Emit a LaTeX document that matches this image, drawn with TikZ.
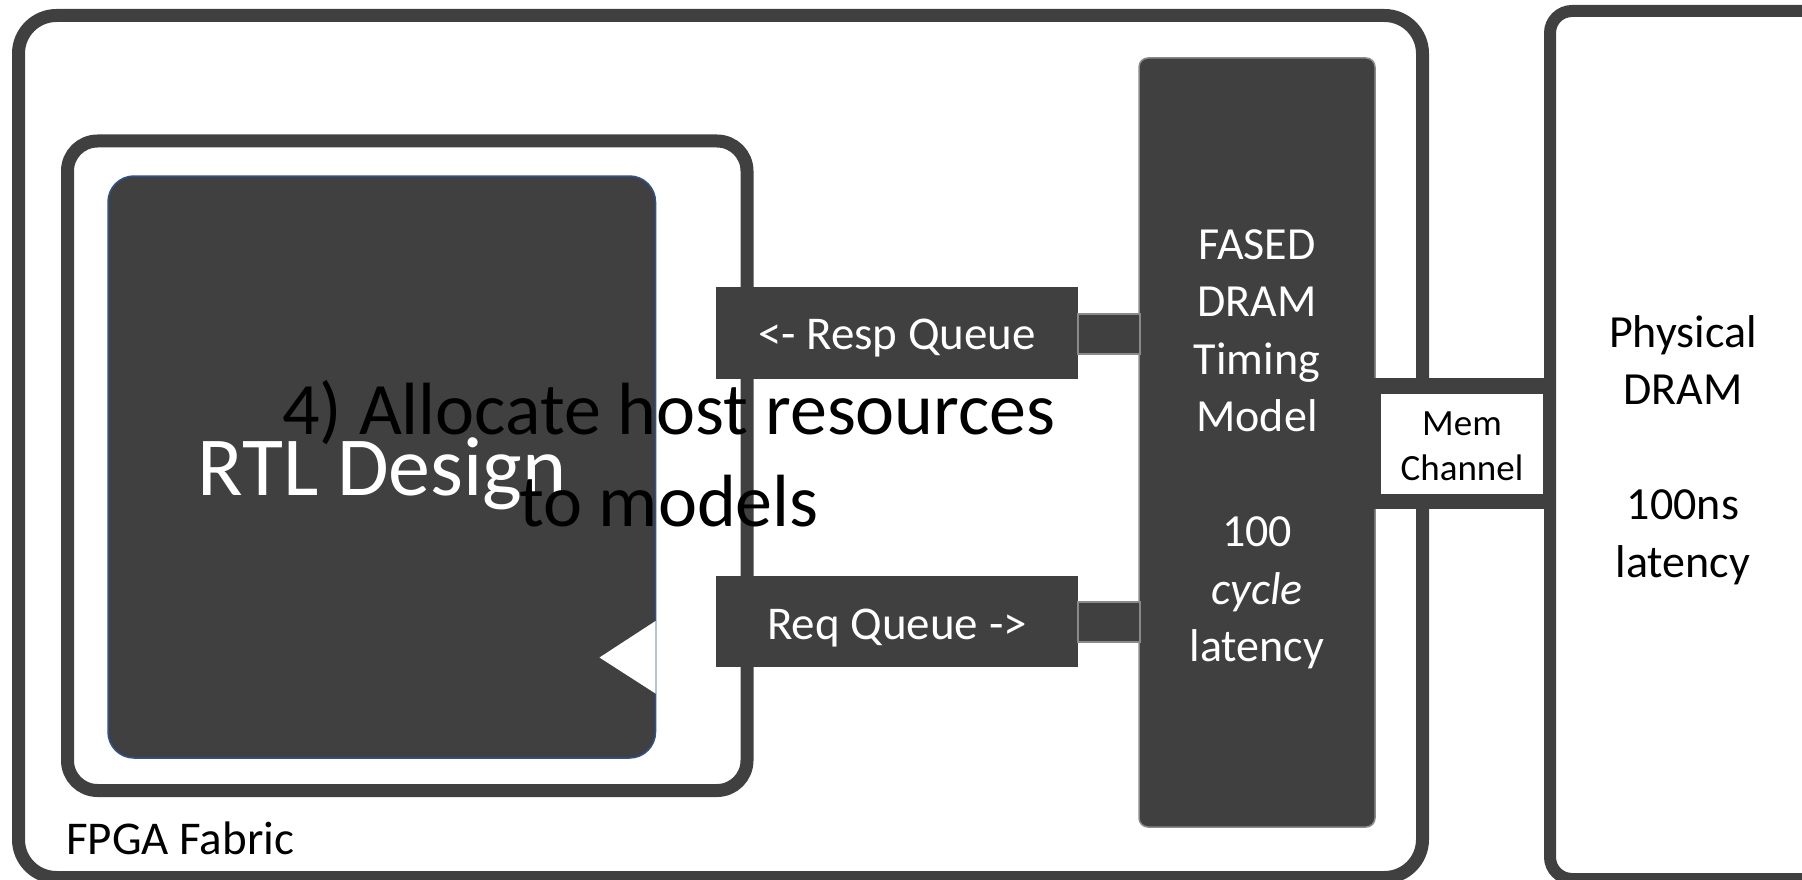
\documentclass[tikz,border=0pt]{standalone}
\usepackage{fontspec}
\setmainfont{Carlito}
\usetikzlibrary{fit}
\definecolor{dk}{HTML}{404040}
\definecolor{bl}{HTML}{2F528F}
\definecolor{gr}{HTML}{8A8A8A}
\tikzset{
  frame/.style={draw=dk, line width=13, inner sep=0pt, outer sep=0pt},
  solid box/.style={fill=dk, inner sep=0pt, outer sep=0pt},
  wtext/.style={text=white, align=center},
}
\begin{document}
\begin{tikzpicture}[x=1pt,y=-1pt]
\useasboundingbox (0,0) rectangle (1802,880);
\clip (0,0) rectangle (1802,880);

% FPGA fabric frame
\node[frame, rounded corners=38, fit={(18.5,15.5)(1422.5,877.5)}] (fpga) {};
% Physical DRAM frame
\node[draw=dk, line width=12, inner sep=0pt, rounded corners=22,
      fit={(1550,11)(1860,879)}] (dram) {};
\node[font=\fontsize{46}{57.5}\selectfont, align=center, anchor=center] (dramtxt)
  at (1683,450) {Physical\\DRAM\\[57.5pt]100ns\\latency};

% inner container
\node[frame, rounded corners=30, fit={(67.5,141)(747,790.5)}] (cont) {};
% RTL design
\node[solid box, draw=bl, line width=1.5, rounded corners=26,
      fit={(108,176)(655.5,758)}] (rtl) {};
\fill[white] (655.5,621) -- (599.5,657.5) -- (655.5,693.5) -- cycle;
\node[wtext, font=\fontsize{84}{100}\selectfont] (rtltxt) at (382,473.5) {RTL Design};

% FASED timing model
\node[solid box, draw=gr, line width=1.5, rounded corners=9,
      fit={(1139,58)(1375,827)}] (fased) {};
\node[wtext, font=\fontsize{46}{57.5}\selectfont] (fasedtxt) at (1257,449.5)
  {FASED\\DRAM\\Timing\\Model\\[57.5pt]100\\\itshape cycle\\latency};

% queues
\node[solid box, fit={(716,287)(1078,379)}] (resp) {};
\node[wtext, font=\fontsize{47}{56}\selectfont] at ([yshift=-5pt]resp.center) {<- Resp Queue};
\node[solid box, fit={(716,576)(1078,667)}] (req) {};
\node[wtext, font=\fontsize{47}{56}\selectfont] at ([yshift=-7pt]req.center) {Req Queue ->};

% queue-to-model connectors
\node[solid box, draw=gr, line width=1.5, fit={(1078,314)(1140,354)}] (c1) {};
\node[solid box, draw=gr, line width=1.5, fit={(1078,602)(1140,642)}] (c2) {};

% memory channel
\node[solid box, fit={(1374,378)(1556,509)}] (band) {};
\node[fill=white, inner sep=0pt, fit={(1381,394)(1543,494)}] (mem) {};
\node[align=center, font=\fontsize{37}{45}\selectfont] (memtxt) at ([yshift=-2.5pt]mem.center) {Mem\\Channel};

% labels
\node[anchor=base west, inner sep=0pt, font=\fontsize{47}{56}\selectfont] (fab) at (66,854) {FPGA Fabric};
\node[align=center, font=\fontsize{74}{92}\selectfont] (step4) at (669,453.5)
  {4) Allocate host resources\\to models};
\end{tikzpicture}
\end{document}
